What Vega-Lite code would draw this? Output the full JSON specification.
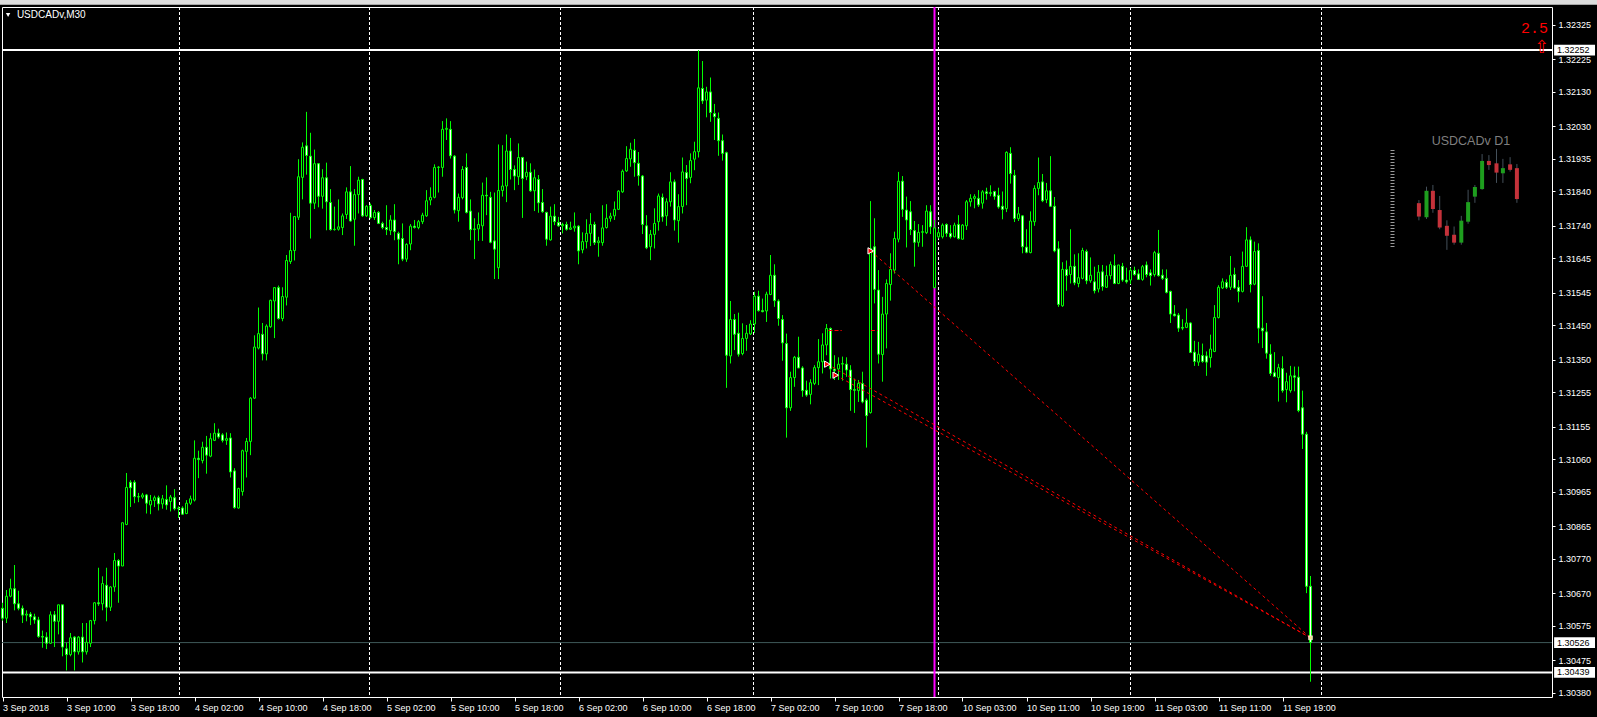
{
"$schema":"https://vega.github.io/schema/vega-lite/v6.json",
"width":1550,"height":690,
"autosize":{"type":"none"},
"padding":{"left":2,"top":7,"right":45,"bottom":20},
"background":"#000000",
"config":{"view":{"stroke":"#ffffff","strokeWidth":1,"fill":"#000000"},"axis":{"grid":false,"domain":false,"tickColor":"#ffffff","labelColor":"#ffffff","labelFont":"Liberation Sans","labelFontSize":9,"title":null,"labelOverlap":false,"labelSeparation":0},"scale":{"continuousPadding":0}},
"data":{"values":[{}]},
"datasets":{
"candles":[
{"i":0,"o":1.30626,"h":1.30642,"l":1.30590,"c":1.30597},
{"i":1,"o":1.30597,"h":1.30679,"l":1.30583,"c":1.30661},
{"i":2,"o":1.30661,"h":1.30712,"l":1.30658,"c":1.30683},
{"i":3,"o":1.30683,"h":1.30752,"l":1.30620,"c":1.30639},
{"i":4,"o":1.30639,"h":1.30677,"l":1.30620,"c":1.30626},
{"i":5,"o":1.30626,"h":1.30634,"l":1.30583,"c":1.30606},
{"i":6,"o":1.30606,"h":1.30620,"l":1.30588,"c":1.30609},
{"i":7,"o":1.30609,"h":1.30615,"l":1.30577,"c":1.30601},
{"i":8,"o":1.30601,"h":1.30610,"l":1.30581,"c":1.30592},
{"i":9,"o":1.30592,"h":1.30601,"l":1.30540,"c":1.30544},
{"i":10,"o":1.30544,"h":1.30561,"l":1.30511,"c":1.30542},
{"i":11,"o":1.30542,"h":1.30556,"l":1.30507,"c":1.30524},
{"i":12,"o":1.30524,"h":1.30617,"l":1.30522,"c":1.30607},
{"i":13,"o":1.30607,"h":1.30618,"l":1.30513,"c":1.30588},
{"i":14,"o":1.30588,"h":1.30636,"l":1.30550,"c":1.30636},
{"i":15,"o":1.30636,"h":1.30636,"l":1.30486,"c":1.30513},
{"i":16,"o":1.30508,"h":1.30526,"l":1.30445,"c":1.30491},
{"i":17,"o":1.30491,"h":1.30554,"l":1.30486,"c":1.30540},
{"i":18,"o":1.30542,"h":1.30545,"l":1.30445,"c":1.30499},
{"i":19,"o":1.30499,"h":1.30545,"l":1.30491,"c":1.30542},
{"i":20,"o":1.30542,"h":1.30583,"l":1.30468,"c":1.30499},
{"i":21,"o":1.30499,"h":1.30583,"l":1.30491,"c":1.30527},
{"i":22,"o":1.30524,"h":1.30592,"l":1.30513,"c":1.30590},
{"i":23,"o":1.30590,"h":1.30644,"l":1.30579,"c":1.30642},
{"i":24,"o":1.30642,"h":1.30744,"l":1.30633,"c":1.30639},
{"i":25,"o":1.30639,"h":1.30719,"l":1.30620,"c":1.30698},
{"i":26,"o":1.30693,"h":1.30744,"l":1.30588,"c":1.30629},
{"i":27,"o":1.30629,"h":1.30690,"l":1.30618,"c":1.30688},
{"i":28,"o":1.30688,"h":1.30787,"l":1.30674,"c":1.30765},
{"i":29,"o":1.30765,"h":1.30769,"l":1.30642,"c":1.30749},
{"i":30,"o":1.30749,"h":1.30876,"l":1.30749,"c":1.30875},
{"i":31,"o":1.30870,"h":1.31020,"l":1.30868,"c":1.30978},
{"i":32,"o":1.30993,"h":1.30999,"l":1.30921,"c":1.30977},
{"i":33,"o":1.30993,"h":1.30999,"l":1.30932,"c":1.30951},
{"i":34,"o":1.30951,"h":1.30962,"l":1.30935,"c":1.30950},
{"i":35,"o":1.30950,"h":1.30962,"l":1.30945,"c":1.30956},
{"i":36,"o":1.30956,"h":1.30959,"l":1.30902,"c":1.30932},
{"i":37,"o":1.30927,"h":1.30956,"l":1.30900,"c":1.30940},
{"i":38,"o":1.30940,"h":1.30954,"l":1.30921,"c":1.30948},
{"i":39,"o":1.30948,"h":1.30954,"l":1.30911,"c":1.30930},
{"i":40,"o":1.30930,"h":1.30956,"l":1.30916,"c":1.30945},
{"i":41,"o":1.30943,"h":1.30984,"l":1.30913,"c":1.30927},
{"i":42,"o":1.30937,"h":1.30956,"l":1.30908,"c":1.30950},
{"i":43,"o":1.30948,"h":1.30973,"l":1.30911,"c":1.30916},
{"i":44,"o":1.30916,"h":1.30923,"l":1.30889,"c":1.30918},
{"i":45,"o":1.30918,"h":1.30923,"l":1.30898,"c":1.30900},
{"i":46,"o":1.30902,"h":1.30941,"l":1.30900,"c":1.30932},
{"i":47,"o":1.30932,"h":1.30954,"l":1.30927,"c":1.30945},
{"i":48,"o":1.30941,"h":1.31115,"l":1.30937,"c":1.31063},
{"i":49,"o":1.31063,"h":1.31085,"l":1.31005,"c":1.31059},
{"i":50,"o":1.31056,"h":1.31111,"l":1.31048,"c":1.31095},
{"i":51,"o":1.31095,"h":1.31128,"l":1.31018,"c":1.31072},
{"i":52,"o":1.31069,"h":1.31136,"l":1.31066,"c":1.31120},
{"i":53,"o":1.31115,"h":1.31165,"l":1.31113,"c":1.31136},
{"i":54,"o":1.31136,"h":1.31149,"l":1.31120,"c":1.31125},
{"i":55,"o":1.31131,"h":1.31136,"l":1.31109,"c":1.31115},
{"i":56,"o":1.31115,"h":1.31138,"l":1.31102,"c":1.31120},
{"i":57,"o":1.31122,"h":1.31136,"l":1.31007,"c":1.31023},
{"i":58,"o":1.31026,"h":1.31034,"l":1.30916,"c":1.30919},
{"i":59,"o":1.30918,"h":1.30977,"l":1.30916,"c":1.30975},
{"i":60,"o":1.30966,"h":1.31088,"l":1.30954,"c":1.31085},
{"i":61,"o":1.31083,"h":1.31122,"l":1.31007,"c":1.31112},
{"i":62,"o":1.31112,"h":1.31241,"l":1.31072,"c":1.31238},
{"i":63,"o":1.31238,"h":1.31421,"l":1.31236,"c":1.31387},
{"i":64,"o":1.31384,"h":1.31502,"l":1.31380,"c":1.31426},
{"i":65,"o":1.31424,"h":1.31457,"l":1.31348,"c":1.31367},
{"i":66,"o":1.31367,"h":1.31453,"l":1.31348,"c":1.31448},
{"i":67,"o":1.31446,"h":1.31525,"l":1.31443,"c":1.31523},
{"i":68,"o":1.31521,"h":1.31561,"l":1.31413,"c":1.31560},
{"i":69,"o":1.31560,"h":1.31566,"l":1.31467,"c":1.31470},
{"i":70,"o":1.31470,"h":1.31561,"l":1.31462,"c":1.31534},
{"i":71,"o":1.31532,"h":1.31655,"l":1.31508,"c":1.31639},
{"i":72,"o":1.31636,"h":1.31778,"l":1.31629,"c":1.31668},
{"i":73,"o":1.31668,"h":1.31768,"l":1.31639,"c":1.31767},
{"i":74,"o":1.31765,"h":1.31934,"l":1.31757,"c":1.31883},
{"i":75,"o":1.31881,"h":1.31983,"l":1.31817,"c":1.31969},
{"i":76,"o":1.31973,"h":1.32072,"l":1.31889,"c":1.31945},
{"i":77,"o":1.31943,"h":1.32011,"l":1.31703,"c":1.31806},
{"i":78,"o":1.31806,"h":1.31962,"l":1.31789,"c":1.31921},
{"i":79,"o":1.31921,"h":1.31923,"l":1.31794,"c":1.31826},
{"i":80,"o":1.31826,"h":1.31905,"l":1.31790,"c":1.31880},
{"i":81,"o":1.31880,"h":1.31924,"l":1.31727,"c":1.31810},
{"i":82,"o":1.31808,"h":1.31847,"l":1.31726,"c":1.31729},
{"i":83,"o":1.31729,"h":1.31796,"l":1.31726,"c":1.31730},
{"i":84,"o":1.31730,"h":1.31817,"l":1.31726,"c":1.31737},
{"i":85,"o":1.31735,"h":1.31776,"l":1.31713,"c":1.31769},
{"i":86,"o":1.31773,"h":1.31852,"l":1.31760,"c":1.31839},
{"i":87,"o":1.31839,"h":1.31914,"l":1.31752,"c":1.31754},
{"i":88,"o":1.31759,"h":1.31847,"l":1.31682,"c":1.31831},
{"i":89,"o":1.31831,"h":1.31883,"l":1.31776,"c":1.31873},
{"i":90,"o":1.31875,"h":1.31877,"l":1.31766,"c":1.31769},
{"i":91,"o":1.31769,"h":1.31800,"l":1.31766,"c":1.31797},
{"i":92,"o":1.31799,"h":1.31805,"l":1.31761,"c":1.31764},
{"i":93,"o":1.31764,"h":1.31786,"l":1.31757,"c":1.31779},
{"i":94,"o":1.31779,"h":1.31783,"l":1.31745,"c":1.31747},
{"i":95,"o":1.31747,"h":1.31752,"l":1.31730,"c":1.31735},
{"i":96,"o":1.31735,"h":1.31800,"l":1.31713,"c":1.31729},
{"i":97,"o":1.31726,"h":1.31771,"l":1.31713,"c":1.31757},
{"i":98,"o":1.31757,"h":1.31803,"l":1.31698,"c":1.31723},
{"i":99,"o":1.31718,"h":1.31723,"l":1.31628,"c":1.31701},
{"i":100,"o":1.31703,"h":1.31747,"l":1.31637,"c":1.31643},
{"i":101,"o":1.31643,"h":1.31689,"l":1.31635,"c":1.31686},
{"i":102,"o":1.31687,"h":1.31745,"l":1.31669,"c":1.31739},
{"i":103,"o":1.31739,"h":1.31757,"l":1.31732,"c":1.31735},
{"i":104,"o":1.31735,"h":1.31757,"l":1.31730,"c":1.31752},
{"i":105,"o":1.31752,"h":1.31778,"l":1.31745,"c":1.31771},
{"i":106,"o":1.31769,"h":1.31844,"l":1.31766,"c":1.31813},
{"i":107,"o":1.31815,"h":1.31852,"l":1.31800,"c":1.31823},
{"i":108,"o":1.31823,"h":1.31919,"l":1.31820,"c":1.31910},
{"i":109,"o":1.31910,"h":1.31914,"l":1.31837,"c":1.31911},
{"i":110,"o":1.31910,"h":1.32045,"l":1.31883,"c":1.32021},
{"i":111,"o":1.32021,"h":1.32053,"l":1.31990,"c":1.32024},
{"i":112,"o":1.32021,"h":1.32045,"l":1.31936,"c":1.31944},
{"i":113,"o":1.31943,"h":1.31946,"l":1.31776,"c":1.31786},
{"i":114,"o":1.31784,"h":1.31834,"l":1.31752,"c":1.31823},
{"i":115,"o":1.31822,"h":1.31914,"l":1.31817,"c":1.31904},
{"i":116,"o":1.31910,"h":1.31951,"l":1.31776,"c":1.31779},
{"i":117,"o":1.31783,"h":1.31817,"l":1.31698,"c":1.31729},
{"i":118,"o":1.31729,"h":1.31762,"l":1.31643,"c":1.31731},
{"i":119,"o":1.31731,"h":1.31779,"l":1.31696,"c":1.31744},
{"i":120,"o":1.31740,"h":1.31866,"l":1.31696,"c":1.31829},
{"i":121,"o":1.31829,"h":1.31881,"l":1.31771,"c":1.31827},
{"i":122,"o":1.31823,"h":1.31839,"l":1.31689,"c":1.31692},
{"i":123,"o":1.31696,"h":1.31837,"l":1.31585,"c":1.31672},
{"i":124,"o":1.31618,"h":1.31977,"l":1.31585,"c":1.31843},
{"i":125,"o":1.31843,"h":1.31975,"l":1.31825,"c":1.31856},
{"i":126,"o":1.31856,"h":1.32006,"l":1.31809,"c":1.31958},
{"i":127,"o":1.31958,"h":1.31996,"l":1.31875,"c":1.31904},
{"i":128,"o":1.31904,"h":1.31916,"l":1.31844,"c":1.31885},
{"i":129,"o":1.31883,"h":1.31980,"l":1.31859,"c":1.31939},
{"i":130,"o":1.31939,"h":1.31941,"l":1.31763,"c":1.31878},
{"i":131,"o":1.31883,"h":1.31927,"l":1.31873,"c":1.31896},
{"i":132,"o":1.31896,"h":1.31922,"l":1.31839,"c":1.31842},
{"i":133,"o":1.31842,"h":1.31904,"l":1.31783,"c":1.31880},
{"i":134,"o":1.31875,"h":1.31888,"l":1.31778,"c":1.31807},
{"i":135,"o":1.31808,"h":1.31847,"l":1.31778,"c":1.31781},
{"i":136,"o":1.31779,"h":1.31781,"l":1.31682,"c":1.31701},
{"i":137,"o":1.31699,"h":1.31796,"l":1.31697,"c":1.31768},
{"i":138,"o":1.31768,"h":1.31803,"l":1.31742,"c":1.31752},
{"i":139,"o":1.31750,"h":1.31766,"l":1.31737,"c":1.31740},
{"i":140,"o":1.31740,"h":1.31749,"l":1.31718,"c":1.31744},
{"i":141,"o":1.31744,"h":1.31752,"l":1.31726,"c":1.31730},
{"i":142,"o":1.31730,"h":1.31752,"l":1.31728,"c":1.31734},
{"i":143,"o":1.31734,"h":1.31779,"l":1.31723,"c":1.31739},
{"i":144,"o":1.31739,"h":1.31742,"l":1.31628,"c":1.31667},
{"i":145,"o":1.31670,"h":1.31721,"l":1.31660,"c":1.31694},
{"i":146,"o":1.31694,"h":1.31759,"l":1.31674,"c":1.31718},
{"i":147,"o":1.31718,"h":1.31777,"l":1.31681,"c":1.31744},
{"i":148,"o":1.31744,"h":1.31752,"l":1.31684,"c":1.31691},
{"i":149,"o":1.31691,"h":1.31708,"l":1.31650,"c":1.31696},
{"i":150,"o":1.31691,"h":1.31800,"l":1.31682,"c":1.31734},
{"i":151,"o":1.31735,"h":1.31803,"l":1.31732,"c":1.31762},
{"i":152,"o":1.31762,"h":1.31778,"l":1.31752,"c":1.31768},
{"i":153,"o":1.31769,"h":1.31811,"l":1.31757,"c":1.31788},
{"i":154,"o":1.31788,"h":1.31844,"l":1.31786,"c":1.31841},
{"i":155,"o":1.31839,"h":1.31904,"l":1.31836,"c":1.31899},
{"i":156,"o":1.31900,"h":1.31972,"l":1.31897,"c":1.31936},
{"i":157,"o":1.31935,"h":1.31982,"l":1.31912,"c":1.31963},
{"i":158,"o":1.31960,"h":1.31993,"l":1.31883,"c":1.31924},
{"i":159,"o":1.31922,"h":1.31955,"l":1.31857,"c":1.31886},
{"i":160,"o":1.31885,"h":1.31888,"l":1.31716,"c":1.31744},
{"i":161,"o":1.31740,"h":1.31771,"l":1.31672,"c":1.31676},
{"i":162,"o":1.31679,"h":1.31728,"l":1.31640,"c":1.31715},
{"i":163,"o":1.31715,"h":1.31791,"l":1.31674,"c":1.31747},
{"i":164,"o":1.31752,"h":1.31834,"l":1.31726,"c":1.31827},
{"i":165,"o":1.31823,"h":1.31834,"l":1.31752,"c":1.31766},
{"i":166,"o":1.31769,"h":1.31820,"l":1.31740,"c":1.31810},
{"i":167,"o":1.31810,"h":1.31896,"l":1.31796,"c":1.31868},
{"i":168,"o":1.31868,"h":1.31875,"l":1.31726,"c":1.31757},
{"i":169,"o":1.31755,"h":1.31832,"l":1.31691,"c":1.31796},
{"i":170,"o":1.31796,"h":1.31939,"l":1.31776,"c":1.31897},
{"i":171,"o":1.31895,"h":1.31917,"l":1.31800,"c":1.31878},
{"i":172,"o":1.31881,"h":1.31951,"l":1.31864,"c":1.31930},
{"i":173,"o":1.31934,"h":1.31985,"l":1.31902,"c":1.31956},
{"i":174,"o":1.31956,"h":1.32252,"l":1.31939,"c":1.32142},
{"i":175,"o":1.32140,"h":1.32220,"l":1.32095,"c":1.32104},
{"i":176,"o":1.32106,"h":1.32145,"l":1.32056,"c":1.32130},
{"i":177,"o":1.32130,"h":1.32172,"l":1.32043,"c":1.32070},
{"i":178,"o":1.32067,"h":1.32095,"l":1.31990,"c":1.32058},
{"i":179,"o":1.32053,"h":1.32070,"l":1.31944,"c":1.31988},
{"i":180,"o":1.31988,"h":1.32006,"l":1.31930,"c":1.31951},
{"i":181,"o":1.31953,"h":1.31956,"l":1.31268,"c":1.31363},
{"i":182,"o":1.31361,"h":1.31521,"l":1.31339,"c":1.31467},
{"i":183,"o":1.31467,"h":1.31483,"l":1.31378,"c":1.31424},
{"i":184,"o":1.31427,"h":1.31487,"l":1.31359,"c":1.31366},
{"i":185,"o":1.31368,"h":1.31456,"l":1.31363,"c":1.31412},
{"i":186,"o":1.31412,"h":1.31451,"l":1.31376,"c":1.31427},
{"i":187,"o":1.31425,"h":1.31465,"l":1.31422,"c":1.31454},
{"i":188,"o":1.31454,"h":1.31548,"l":1.31428,"c":1.31535},
{"i":189,"o":1.31535,"h":1.31551,"l":1.31490,"c":1.31493},
{"i":190,"o":1.31493,"h":1.31528,"l":1.31488,"c":1.31490},
{"i":191,"o":1.31492,"h":1.31548,"l":1.31460,"c":1.31541},
{"i":192,"o":1.31540,"h":1.31655,"l":1.31538,"c":1.31596},
{"i":193,"o":1.31596,"h":1.31628,"l":1.31504,"c":1.31522},
{"i":194,"o":1.31521,"h":1.31526,"l":1.31449,"c":1.31470},
{"i":195,"o":1.31467,"h":1.31480,"l":1.31347,"c":1.31399},
{"i":196,"o":1.31397,"h":1.31426,"l":1.31123,"c":1.31210},
{"i":197,"o":1.31210,"h":1.31315,"l":1.31201,"c":1.31298},
{"i":198,"o":1.31298,"h":1.31361,"l":1.31271,"c":1.31357},
{"i":199,"o":1.31357,"h":1.31417,"l":1.31325,"c":1.31326},
{"i":200,"o":1.31326,"h":1.31331,"l":1.31242,"c":1.31260},
{"i":201,"o":1.31261,"h":1.31289,"l":1.31242,"c":1.31247},
{"i":202,"o":1.31249,"h":1.31293,"l":1.31220,"c":1.31283},
{"i":203,"o":1.31281,"h":1.31334,"l":1.31276,"c":1.31327},
{"i":204,"o":1.31327,"h":1.31410,"l":1.31276,"c":1.31344},
{"i":205,"o":1.31344,"h":1.31427,"l":1.31310,"c":1.31393},
{"i":206,"o":1.31393,"h":1.31454,"l":1.31363,"c":1.31441},
{"i":207,"o":1.31441,"h":1.31444,"l":1.31295,"c":1.31323},
{"i":208,"o":1.31323,"h":1.31363,"l":1.31291,"c":1.31318},
{"i":209,"o":1.31323,"h":1.31357,"l":1.31291,"c":1.31337},
{"i":210,"o":1.31337,"h":1.31359,"l":1.31289,"c":1.31339},
{"i":211,"o":1.31337,"h":1.31357,"l":1.31300,"c":1.31320},
{"i":212,"o":1.31320,"h":1.31334,"l":1.31201,"c":1.31263},
{"i":213,"o":1.31263,"h":1.31295,"l":1.31195,"c":1.31261},
{"i":214,"o":1.31260,"h":1.31291,"l":1.31227,"c":1.31281},
{"i":215,"o":1.31281,"h":1.31315,"l":1.31223,"c":1.31227},
{"i":216,"o":1.31232,"h":1.31237,"l":1.31094,"c":1.31187},
{"i":217,"o":1.31196,"h":1.31812,"l":1.31193,"c":1.31674},
{"i":218,"o":1.31679,"h":1.31762,"l":1.31514,"c":1.31555},
{"i":219,"o":1.31553,"h":1.31611,"l":1.31339,"c":1.31366},
{"i":220,"o":1.31365,"h":1.31533,"l":1.31286,"c":1.31483},
{"i":221,"o":1.31483,"h":1.31584,"l":1.31383,"c":1.31572},
{"i":222,"o":1.31569,"h":1.31660,"l":1.31522,"c":1.31613},
{"i":223,"o":1.31611,"h":1.31723,"l":1.31601,"c":1.31703},
{"i":224,"o":1.31701,"h":1.31897,"l":1.31692,"c":1.31870},
{"i":225,"o":1.31870,"h":1.31885,"l":1.31766,"c":1.31788},
{"i":226,"o":1.31786,"h":1.31825,"l":1.31677,"c":1.31757},
{"i":227,"o":1.31781,"h":1.31812,"l":1.31713,"c":1.31729},
{"i":228,"o":1.31726,"h":1.31754,"l":1.31621,"c":1.31692},
{"i":229,"o":1.31692,"h":1.31745,"l":1.31679,"c":1.31721},
{"i":230,"o":1.31721,"h":1.31742,"l":1.31679,"c":1.31723},
{"i":231,"o":1.31720,"h":1.31800,"l":1.31716,"c":1.31783},
{"i":232,"o":1.31781,"h":1.31800,"l":1.31716,"c":1.31737},
{"i":233,"o":1.31560,"h":1.31757,"l":1.31558,"c":1.31734},
{"i":234,"o":1.31708,"h":1.31732,"l":1.31703,"c":1.31720},
{"i":235,"o":1.31708,"h":1.31747,"l":1.31703,"c":1.31742},
{"i":236,"o":1.31744,"h":1.31747,"l":1.31708,"c":1.31718},
{"i":237,"o":1.31718,"h":1.31742,"l":1.31703,"c":1.31708},
{"i":238,"o":1.31708,"h":1.31749,"l":1.31706,"c":1.31742},
{"i":239,"o":1.31744,"h":1.31771,"l":1.31700,"c":1.31703},
{"i":240,"o":1.31701,"h":1.31745,"l":1.31700,"c":1.31742},
{"i":241,"o":1.31740,"h":1.31815,"l":1.31728,"c":1.31810},
{"i":242,"o":1.31810,"h":1.31832,"l":1.31796,"c":1.31820},
{"i":243,"o":1.31820,"h":1.31832,"l":1.31791,"c":1.31825},
{"i":244,"o":1.31820,"h":1.31844,"l":1.31795,"c":1.31801},
{"i":245,"o":1.31806,"h":1.31844,"l":1.31790,"c":1.31839},
{"i":246,"o":1.31839,"h":1.31851,"l":1.31816,"c":1.31834},
{"i":247,"o":1.31834,"h":1.31858,"l":1.31826,"c":1.31837},
{"i":248,"o":1.31840,"h":1.31842,"l":1.31816,"c":1.31826},
{"i":249,"o":1.31829,"h":1.31851,"l":1.31790,"c":1.31795},
{"i":250,"o":1.31797,"h":1.31840,"l":1.31759,"c":1.31788},
{"i":251,"o":1.31790,"h":1.31957,"l":1.31780,"c":1.31954},
{"i":252,"o":1.31951,"h":1.31969,"l":1.31863,"c":1.31892},
{"i":253,"o":1.31887,"h":1.31903,"l":1.31751,"c":1.31761},
{"i":254,"o":1.31761,"h":1.31795,"l":1.31754,"c":1.31775},
{"i":255,"o":1.31769,"h":1.31771,"l":1.31660,"c":1.31679},
{"i":256,"o":1.31678,"h":1.31730,"l":1.31660,"c":1.31663},
{"i":257,"o":1.31662,"h":1.31782,"l":1.31660,"c":1.31754},
{"i":258,"o":1.31752,"h":1.31858,"l":1.31740,"c":1.31849},
{"i":259,"o":1.31849,"h":1.31939,"l":1.31829,"c":1.31866},
{"i":260,"o":1.31868,"h":1.31891,"l":1.31809,"c":1.31813},
{"i":261,"o":1.31816,"h":1.31865,"l":1.31806,"c":1.31842},
{"i":262,"o":1.31842,"h":1.31943,"l":1.31795,"c":1.31797},
{"i":263,"o":1.31797,"h":1.31824,"l":1.31663,"c":1.31667},
{"i":264,"o":1.31673,"h":1.31695,"l":1.31504,"c":1.31511},
{"i":265,"o":1.31507,"h":1.31634,"l":1.31504,"c":1.31613},
{"i":266,"o":1.31613,"h":1.31639,"l":1.31551,"c":1.31595},
{"i":267,"o":1.31598,"h":1.31730,"l":1.31572,"c":1.31622},
{"i":268,"o":1.31622,"h":1.31657,"l":1.31567,"c":1.31574},
{"i":269,"o":1.31572,"h":1.31660,"l":1.31561,"c":1.31589},
{"i":270,"o":1.31587,"h":1.31676,"l":1.31584,"c":1.31668},
{"i":271,"o":1.31665,"h":1.31671,"l":1.31570,"c":1.31580},
{"i":272,"o":1.31580,"h":1.31648,"l":1.31574,"c":1.31596},
{"i":273,"o":1.31577,"h":1.31621,"l":1.31543,"c":1.31551},
{"i":274,"o":1.31556,"h":1.31626,"l":1.31546,"c":1.31605},
{"i":275,"o":1.31606,"h":1.31626,"l":1.31551,"c":1.31563},
{"i":276,"o":1.31561,"h":1.31624,"l":1.31559,"c":1.31595},
{"i":277,"o":1.31595,"h":1.31636,"l":1.31584,"c":1.31627},
{"i":278,"o":1.31624,"h":1.31657,"l":1.31570,"c":1.31572},
{"i":279,"o":1.31572,"h":1.31626,"l":1.31570,"c":1.31626},
{"i":280,"o":1.31622,"h":1.31632,"l":1.31577,"c":1.31582},
{"i":281,"o":1.31582,"h":1.31618,"l":1.31572,"c":1.31577},
{"i":282,"o":1.31582,"h":1.31618,"l":1.31570,"c":1.31610},
{"i":283,"o":1.31610,"h":1.31621,"l":1.31595,"c":1.31598},
{"i":284,"o":1.31600,"h":1.31613,"l":1.31582,"c":1.31584},
{"i":285,"o":1.31584,"h":1.31626,"l":1.31580,"c":1.31621},
{"i":286,"o":1.31626,"h":1.31636,"l":1.31590,"c":1.31598},
{"i":287,"o":1.31603,"h":1.31613,"l":1.31566,"c":1.31595},
{"i":288,"o":1.31598,"h":1.31667,"l":1.31592,"c":1.31662},
{"i":289,"o":1.31660,"h":1.31728,"l":1.31592,"c":1.31595},
{"i":290,"o":1.31596,"h":1.31613,"l":1.31582,"c":1.31587},
{"i":291,"o":1.31587,"h":1.31613,"l":1.31543,"c":1.31546},
{"i":292,"o":1.31549,"h":1.31551,"l":1.31457,"c":1.31483},
{"i":293,"o":1.31483,"h":1.31509,"l":1.31476,"c":1.31478},
{"i":294,"o":1.31480,"h":1.31486,"l":1.31431,"c":1.31442},
{"i":295,"o":1.31444,"h":1.31468,"l":1.31436,"c":1.31442},
{"i":296,"o":1.31444,"h":1.31499,"l":1.31442,"c":1.31457},
{"i":297,"o":1.31457,"h":1.31459,"l":1.31369,"c":1.31371},
{"i":298,"o":1.31372,"h":1.31405,"l":1.31332,"c":1.31345},
{"i":299,"o":1.31343,"h":1.31402,"l":1.31332,"c":1.31366},
{"i":300,"o":1.31362,"h":1.31397,"l":1.31341,"c":1.31345},
{"i":301,"o":1.31361,"h":1.31374,"l":1.31303,"c":1.31343},
{"i":302,"o":1.31356,"h":1.31423,"l":1.31327,"c":1.31381},
{"i":303,"o":1.31374,"h":1.31509,"l":1.31372,"c":1.31473},
{"i":304,"o":1.31473,"h":1.31567,"l":1.31470,"c":1.31561},
{"i":305,"o":1.31559,"h":1.31587,"l":1.31556,"c":1.31577},
{"i":306,"o":1.31575,"h":1.31584,"l":1.31556,"c":1.31561},
{"i":307,"o":1.31561,"h":1.31652,"l":1.31553,"c":1.31596},
{"i":308,"o":1.31598,"h":1.31618,"l":1.31556,"c":1.31559},
{"i":309,"o":1.31561,"h":1.31582,"l":1.31517,"c":1.31549},
{"i":310,"o":1.31549,"h":1.31665,"l":1.31546,"c":1.31622},
{"i":311,"o":1.31622,"h":1.31736,"l":1.31621,"c":1.31699},
{"i":312,"o":1.31699,"h":1.31709,"l":1.31546,"c":1.31569},
{"i":313,"o":1.31570,"h":1.31694,"l":1.31567,"c":1.31665},
{"i":314,"o":1.31668,"h":1.31689,"l":1.31398,"c":1.31442},
{"i":315,"o":1.31442,"h":1.31535,"l":1.31384,"c":1.31434},
{"i":316,"o":1.31431,"h":1.31457,"l":1.31353,"c":1.31369},
{"i":317,"o":1.31366,"h":1.31395,"l":1.31303,"c":1.31310},
{"i":318,"o":1.31312,"h":1.31372,"l":1.31299,"c":1.31301},
{"i":319,"o":1.31298,"h":1.31338,"l":1.31228,"c":1.31327},
{"i":320,"o":1.31324,"h":1.31360,"l":1.31254,"c":1.31260},
{"i":321,"o":1.31263,"h":1.31312,"l":1.31226,"c":1.31286},
{"i":322,"o":1.31260,"h":1.31332,"l":1.31254,"c":1.31303},
{"i":323,"o":1.31303,"h":1.31330,"l":1.31258,"c":1.31299},
{"i":324,"o":1.31299,"h":1.31330,"l":1.31197,"c":1.31202},
{"i":325,"o":1.31210,"h":1.31260,"l":1.31090,"c":1.31133},
{"i":326,"o":1.31133,"h":1.31140,"l":1.30670,"c":1.30690},
{"i":327,"o":1.30690,"h":1.30720,"l":1.30412,"c":1.30526}
],
"mini":[
{"i":354.1,"o":1.31806,"h":1.31815,"l":1.31756,"c":1.31767},
{"i":356.0,"o":1.31765,"h":1.31854,"l":1.31760,"c":1.31842},
{"i":357.6,"o":1.31842,"h":1.31859,"l":1.31778,"c":1.31789},
{"i":359.3,"o":1.31786,"h":1.31827,"l":1.31730,"c":1.31735},
{"i":361.1,"o":1.31740,"h":1.31756,"l":1.31670,"c":1.31711},
{"i":362.9,"o":1.31714,"h":1.31738,"l":1.31685,"c":1.31691},
{"i":364.7,"o":1.31691,"h":1.31769,"l":1.31685,"c":1.31755},
{"i":366.4,"o":1.31752,"h":1.31845,"l":1.31746,"c":1.31809},
{"i":368.1,"o":1.31825,"h":1.31859,"l":1.31807,"c":1.31853},
{"i":369.9,"o":1.31847,"h":1.31949,"l":1.31845,"c":1.31929},
{"i":371.6,"o":1.31929,"h":1.31946,"l":1.31903,"c":1.31917},
{"i":373.5,"o":1.31922,"h":1.31964,"l":1.31865,"c":1.31895},
{"i":375.1,"o":1.31893,"h":1.31935,"l":1.31865,"c":1.31908},
{"i":376.9,"o":1.31919,"h":1.31940,"l":1.31898,"c":1.31903},
{"i":378.6,"o":1.31908,"h":1.31920,"l":1.31807,"c":1.31818}
],
"trades":[
{"t":"a","i":217.05,"p":1.31667},{"t":"a","i":327,"p":1.30540},
{"t":"b","i":206.2,"p":1.31337},{"t":"b","i":327,"p":1.30540},
{"t":"c","i":208.3,"p":1.31305},{"t":"c","i":327,"p":1.30540}
],
"entries":[{"i":217.05,"p":1.31667},{"i":206.2,"p":1.31337},{"i":208.3,"p":1.31305}],
"stops":[{"i":206.5,"i2":209.8,"p":1.31435},{"i":217.1,"i2":218.8,"p":1.31435}],
"grid":[{"i":44.25},{"i":91.75},{"i":139.5},{"i":187.75},{"i":234},{"i":282},{"i":329.75}],
"hlines":[{"p":1.32252,"w":2,"col":"#ffffff"},{"p":1.30439,"w":2,"col":"#ffffff"},{"p":1.30526,"w":1,"col":"#3e5858"}],
"pricetags":[{"p":1.32252,"txt":"1.32252"},{"p":1.30526,"txt":"1.30526"},{"p":1.30439,"txt":"1.30439"}]
},
"layer":[
{"mark":{"type":"rect","color":"#dcdcdc","clip":false},
 "encoding":{"x":{"datum":-2,"type":"quantitative","scale":{"domain":[-0.125,387.375],"nice":false,"zero":false,"padding":0},
   "axis":{"orient":"bottom","values":[0,16,32,48,64,80,96,112,128,144,160,176,192,208,224,240,256,272,288,304,320],"tickCount":60,
     "labelExpr":"['3 Sep 2018','3 Sep 10:00','3 Sep 18:00','4 Sep 02:00','4 Sep 10:00','4 Sep 18:00','5 Sep 02:00','5 Sep 10:00','5 Sep 18:00','6 Sep 02:00','6 Sep 10:00','6 Sep 18:00','7 Sep 02:00','7 Sep 10:00','7 Sep 18:00','10 Sep 03:00','10 Sep 11:00','10 Sep 19:00','11 Sep 03:00','11 Sep 11:00','11 Sep 19:00'][round(datum.value/16)]",
     "tickSize":4,"labelAlign":"left","labelBaseline":"top","labelPadding":2,"labelFlush":false,"labelOverlap":false,"labelBound":false}},
  "x2":{"datum":400},
  "y":{"datum":1.32384,"type":"quantitative","scale":{"domain":[1.303675,1.323774],"nice":false,"zero":false,"padding":0},
   "axis":{"orient":"right","values":[1.32325,1.32225,1.32130,1.32030,1.31935,1.31840,1.31740,1.31645,1.31545,1.31450,1.31350,1.31255,1.31155,1.31060,1.30965,1.30865,1.30770,1.30670,1.30575,1.30475,1.30380],"tickCount":60,
     "format":".5f","tickSize":3,"labelPadding":3,"labelOverlap":false,"labelBound":false,"labelFlush":false,"labelSeparation":0}},
  "y2":{"datum":1.32410}}},
{"data":{"name":"grid"},"mark":{"type":"rule","color":"#ffffff","strokeWidth":1,"strokeDash":[3,2]},
 "encoding":{"x":{"field":"i","type":"quantitative"}}},
{"data":{"name":"hlines"},"mark":{"type":"rule"},
 "encoding":{"y":{"field":"p","type":"quantitative"},"color":{"field":"col","type":"nominal","scale":null},"strokeWidth":{"field":"w","type":"quantitative","scale":null}}},
{"mark":{"type":"rule","color":"#ff00ff","strokeWidth":2},
 "encoding":{"x":{"datum":233,"type":"quantitative"}}},
{"data":{"name":"candles"},"mark":{"type":"rule","color":"#00ff00","strokeWidth":1},
 "encoding":{"x":{"field":"i","type":"quantitative"},"y":{"field":"l","type":"quantitative"},"y2":{"field":"h"}}},
{"data":{"name":"candles"},"mark":{"type":"bar","width":2,"stroke":"#00ff00","strokeWidth":1},
 "encoding":{"x":{"field":"i","type":"quantitative"},"y":{"field":"o","type":"quantitative"},"y2":{"field":"c"},
  "fill":{"condition":{"test":"datum.c < datum.o","value":"#ffffff"},"value":"#000000"}}},
{"data":{"name":"trades"},"mark":{"type":"line","color":"#ff0000","strokeWidth":1,"strokeDash":[3,3]},
 "encoding":{"x":{"field":"i","type":"quantitative"},"y":{"field":"p","type":"quantitative"},"detail":{"field":"t"}}},
{"data":{"name":"stops"},"mark":{"type":"rule","color":"#ff0000","strokeWidth":1,"strokeDash":[4,2]},
 "encoding":{"x":{"field":"i","type":"quantitative"},"x2":{"field":"i2"},"y":{"field":"p","type":"quantitative"}}},
{"data":{"name":"entries"},"mark":{"type":"point","shape":"triangle-right","filled":true,"fill":"#ff0000","stroke":"#ffffff","strokeWidth":1,"size":40,"opacity":1},
 "encoding":{"x":{"field":"i","type":"quantitative"},"y":{"field":"p","type":"quantitative"}}},
{"mark":{"type":"point","shape":"square","filled":true,"fill":"#f0e090","stroke":"#ffffff","strokeWidth":0.5,"size":16,"opacity":1},
 "encoding":{"x":{"datum":327,"type":"quantitative"},"y":{"datum":1.30540,"type":"quantitative"}}},
{"mark":{"type":"rule","color":"#9a9a9a","strokeWidth":4,"strokeDash":[1,2]},
 "encoding":{"x":{"datum":347.5,"type":"quantitative"},"y":{"datum":1.31678,"type":"quantitative"},"y2":{"datum":1.31967}}},
{"data":{"name":"mini"},"mark":{"type":"rule","color":"#44505a","strokeWidth":1},
 "encoding":{"x":{"field":"i","type":"quantitative"},"y":{"field":"l","type":"quantitative"},"y2":{"field":"h"}}},
{"data":{"name":"mini"},"mark":{"type":"bar","width":4},
 "encoding":{"x":{"field":"i","type":"quantitative"},"y":{"field":"o","type":"quantitative"},"y2":{"field":"c"},
  "fill":{"condition":{"test":"datum.c < datum.o","value":"#c4323a"},"value":"#1e9e1e"}}},
{"mark":{"type":"text","text":"USDCADv D1","align":"left","baseline":"middle","font":"Liberation Sans","fontSize":12.5,"color":"#7f7f7f"},
 "encoding":{"x":{"datum":357.3,"type":"quantitative"},"y":{"datum":1.31987,"type":"quantitative"}}},
{"mark":{"type":"text","text":"2.5","align":"right","baseline":"middle","font":"Liberation Mono","fontSize":15,"color":"#ff0000"},
 "encoding":{"x":{"datum":386.4,"type":"quantitative"},"y":{"datum":1.32315,"type":"quantitative"}}},
{"mark":{"type":"text","text":"⇧","align":"center","baseline":"middle","font":"DejaVu Sans","fontSize":18,"color":"#ff0000"},
 "encoding":{"x":{"datum":384.9,"type":"quantitative"},"y":{"datum":1.32259,"type":"quantitative"}}},
{"mark":{"type":"text","text":"USDCADv,M30","align":"left","baseline":"middle","font":"Liberation Sans","fontSize":10,"color":"#ffffff"},
 "encoding":{"x":{"datum":3.6,"type":"quantitative"},"y":{"datum":1.32354,"type":"quantitative"}}},
{"mark":{"type":"point","shape":"triangle-down","filled":true,"color":"#ffffff","size":20,"opacity":1},
 "encoding":{"x":{"datum":1.4,"type":"quantitative"},"y":{"datum":1.32354,"type":"quantitative"}}},
{"data":{"name":"pricetags"},"mark":{"type":"point","shape":"M0.09,-0.23L1.83,-0.23L1.83,0.23L0.09,0.23Z","filled":true,"color":"#ffffff","size":2209,"opacity":1,"clip":false},
 "encoding":{"x":{"datum":387.375,"type":"quantitative"},"y":{"field":"p","type":"quantitative"}}},
{"data":{"name":"pricetags"},"mark":{"type":"text","align":"left","baseline":"middle","dx":5,"font":"Liberation Sans","fontSize":9,"color":"#000000","clip":false},
 "encoding":{"x":{"datum":387.375,"type":"quantitative"},"y":{"field":"p","type":"quantitative"},"text":{"field":"txt"}}}
]
}
